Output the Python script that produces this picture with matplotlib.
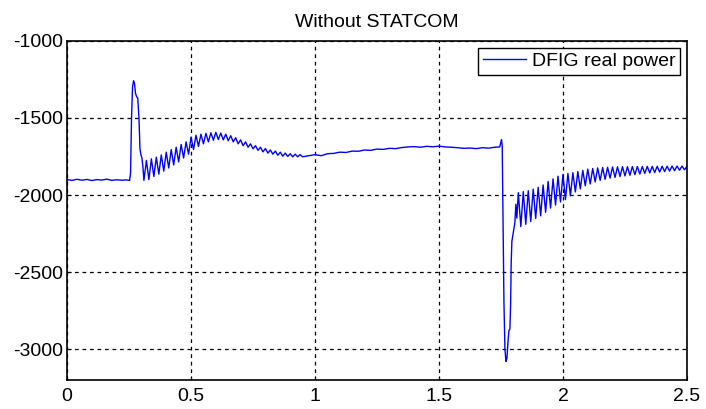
import numpy as np
import matplotlib
matplotlib.use('Agg')
import matplotlib.pyplot as plt

plt.rcParams['font.family'] = ['Liberation Sans', 'DejaVu Sans']
plt.rcParams['axes.unicode_minus'] = False

# --- DFIG real power trace (W), time in s ---
# steady state before the first disturbance
pre_t = np.arange(0, 13) * 0.02
pre_p = [-1900, -1905, -1898, -1904, -1899, -1906, -1900, -1903, -1897,
         -1905, -1901, -1904, -1902]

# first disturbance
fault1_t = [0.252, 0.256, 0.260, 0.264, 0.268, 0.272, 0.276, 0.280, 0.285,
            0.290, 0.294, 0.298, 0.302, 0.306]
fault1_p = [-1905, -1860, -1500, -1300, -1258, -1275, -1340, -1360, -1372,
            -1500, -1700, -1740, -1760, -1820]

# oscillating recovery after the first disturbance
osc1_t = np.arange(31, 96) / 100
osc1_p = [-1905, -1775, -1900, -1765, -1880, -1755, -1865, -1740, -1845, -1722,
          -1825, -1705, -1805, -1690, -1785, -1672, -1760, -1655, -1735, -1625,
          -1705, -1612, -1685, -1605, -1668, -1600, -1655, -1596, -1645, -1593,
          -1640, -1598, -1642, -1605, -1648, -1615, -1655, -1628, -1668, -1642,
          -1680, -1655, -1690, -1668, -1700, -1680, -1710, -1690, -1720, -1698,
          -1728, -1708, -1735, -1715, -1742, -1722, -1748, -1728, -1750, -1732,
          -1752, -1735, -1752, -1738, -1752]

# slow drift between the two events
mid_t = np.arange(39, 70) * 0.025
mid_p = [-1745, -1738, -1745, -1732, -1730, -1722, -1724, -1715, -1716, -1708,
         -1710, -1702, -1704, -1697, -1699, -1692, -1688, -1686, -1690, -1684,
         -1687, -1683, -1688, -1690, -1693, -1697, -1695, -1699, -1693, -1696,
         -1690]

# second disturbance (deep dip)
fault2_t = [1.745, 1.752, 1.755, 1.758, 1.762, 1.766, 1.770, 1.774, 1.778,
            1.782, 1.786, 1.789, 1.791, 1.794, 1.798, 1.802, 1.806, 1.810, 1.814]
fault2_p = [-1688, -1640, -1680, -2100, -2700, -3000, -3080, -3060, -2960,
            -2880, -2870, -2700, -2450, -2300, -2260, -2220, -2180, -2060, -2150]

# oscillating recovery after the second disturbance
osc2_t = np.arange(182, 251) / 100
osc2_p = [-1985, -2205, -1978, -2190, -1972, -2172, -1962, -2152, -1950, -2135,
          -1935, -2112, -1912, -2085, -1895, -2065, -1878, -2045, -1866, -2030,
          -1860, -2005, -1855, -1980, -1848, -1960, -1840, -1940, -1832, -1928,
          -1828, -1915, -1824, -1905, -1822, -1898, -1820, -1890, -1818, -1886,
          -1817, -1880, -1816, -1876, -1816, -1872, -1815, -1868, -1815, -1864,
          -1815, -1860, -1814, -1857, -1814, -1854, -1814, -1851, -1813, -1848,
          -1813, -1845, -1812, -1842, -1812, -1839, -1812, -1836, -1815]

x_ticks = [0, 0.5, 1, 1.5, 2, 2.5]
x_labels = ['0', '0.5', '1', '1.5', '2', '2.5']
y_ticks = [-3000, -2500, -2000, -1500, -1000]

t = np.concatenate([pre_t, fault1_t, osc1_t, mid_t, fault2_t, osc2_t])
p = np.concatenate([pre_p, fault1_p, osc1_p, mid_p, fault2_p, osc2_p])

fig, ax = plt.subplots(figsize=(7.06, 4.09), dpi=100)
fig.subplots_adjust(left=0.095, right=0.973, top=0.90, bottom=0.071)

ax.plot(t, p, color='blue', linewidth=1.0, label='DFIG real power')

ax.set_xlim(0, 2.5)
ax.set_ylim(-3200, -1000)
ax.set_xticks(x_ticks)
ax.set_xticklabels(x_labels)
ax.set_yticks(y_ticks)
ax.tick_params(direction='in', length=3, labelsize=14, colors='black')
ax.tick_params(axis='x', pad=6)
ax.tick_params(axis='y', pad=3)

ax.grid(True, color='black', linestyle=(0, (3, 3)), linewidth=0.9)
for s in ax.spines.values():
    s.set_linewidth(1.2)
    s.set_color('black')

ax.set_title('Without STATCOM', fontsize=14, pad=10)

leg = ax.legend(loc='upper right', fontsize=14, fancybox=False, framealpha=1,
                edgecolor='black', borderaxespad=0.35, handlelength=2.2,
                handletextpad=0.3, borderpad=0.25)
leg.get_frame().set_linewidth(1.0)

fig.savefig('out.png', dpi=100)
